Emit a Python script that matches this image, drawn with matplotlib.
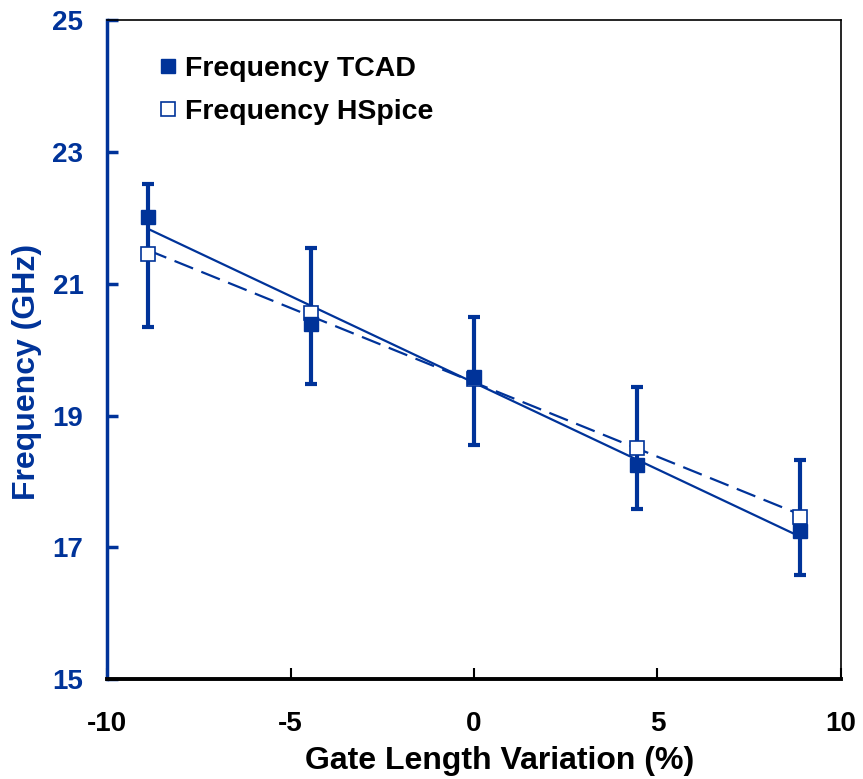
import matplotlib.pyplot as plt
import numpy as np

plt.rcParams['font.family'] = ['Liberation Sans', 'DejaVu Sans']
plt.rcParams['font.weight'] = 'bold'
plt.rcParams['axes.unicode_minus'] = False

blue = '#003399'

# gate length variation (%) and oscillation frequency (GHz)
gl = [-8.89, -4.44, 0.0, 4.44, 8.89]
f_tcad = [22.02, 20.39, 19.59, 18.25, 17.25]
f_hspice = [21.45, 20.56, 19.55, 18.51, 17.46]
err_hi = [22.51, 21.54, 20.50, 19.43, 18.32]
err_lo = [20.35, 19.48, 18.55, 17.58, 16.59]

x = np.array(gl)
yt = np.array(f_tcad)
yh = np.array(f_hspice)
yerr = [yt - np.array(err_lo), np.array(err_hi) - yt]

fig = plt.figure(figsize=(8.63, 7.79), dpi=100)
ax = fig.add_axes([0.124, 0.128, 0.8505, 0.846])

# linear trend lines
pt = np.polyfit(x, yt, 1)
ph = np.polyfit(x, yh, 1)
ax.plot(x, np.polyval(pt, x), '-', color=blue, lw=1.6, zorder=2)
ax.plot(x, np.polyval(ph, x), '--', color=blue, lw=1.6, dashes=(9, 4), zorder=2)

ax.errorbar(x, yt, yerr=yerr, fmt='none', ecolor=blue, elinewidth=3,
            capsize=4.5, capthick=3, zorder=3)
ax.plot(x, yh, 's', ms=9.5, mfc='white', mec=blue, mew=1.2, ls='none',
        label='Frequency HSpice', zorder=4)
ax.plot(x, yt, 's', ms=9.5, mfc=blue, mec=blue, ls='none',
        label='Frequency TCAD', zorder=5)

ax.set_xlim(-10, 10)
ax.set_ylim(15, 25)
ax.set_xticks([-10, -5, 0, 5, 10])
ax.set_yticks([15, 17, 19, 21, 23, 25])

for s in ['top', 'right']:
    ax.spines[s].set_linewidth(1.2)
    ax.spines[s].set_color('black')
ax.spines['left'].set_color(blue)
ax.spines['left'].set_linewidth(2.5)
ax.spines['bottom'].set_color('black')
ax.spines['bottom'].set_linewidth(2.8)

ax.tick_params(axis='y', direction='in', length=8, width=2.5, color=blue,
               labelcolor=blue, labelsize=20, pad=17)
ax.tick_params(axis='x', direction='in', length=8, width=1.5, color='black',
               labelcolor='black', labelsize=20, pad=23)

ax.set_xlabel('Gate Length Variation (%)', fontsize=23, fontweight='bold')
ax.set_ylabel('Frequency (GHz)', fontsize=23, fontweight='bold', color=blue)
ax.xaxis.set_label_coords(0.535, -0.101)
ax.yaxis.set_label_coords(-0.088, 0.466)

h, l = ax.get_legend_handles_labels()
ax.legend(h[::-1], l[::-1], loc='upper left', bbox_to_anchor=(0.037, 0.985),
          frameon=False, fontsize=20.5, handlelength=0.6, handletextpad=0.3,
          labelspacing=0.62, markerscale=1.05)

fig.savefig('out.png', dpi=100)
